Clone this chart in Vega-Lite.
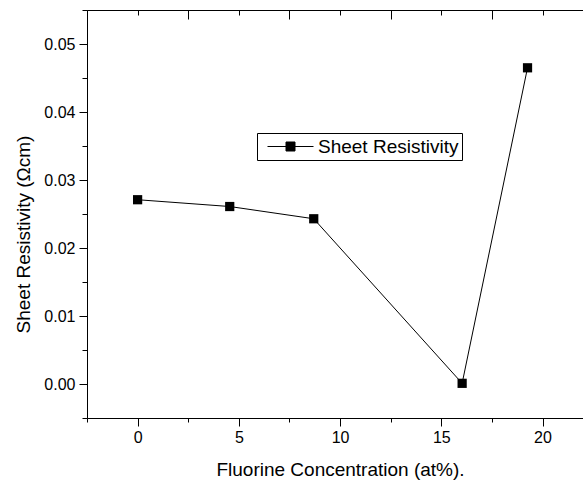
{
  "$schema": "https://vega.github.io/schema/vega-lite/v6.json",
  "width": 496,
  "height": 408,
  "autosize": {"type": "none"},
  "padding": {"left": 87, "top": 10, "right": 0, "bottom": 62},
  "background": "white",
  "config": {
    "view": {"stroke": null},
    "font": "Liberation Sans",
    "axis": {
      "grid": false,
      "domainColor": "black",
      "domainWidth": 1,
      "tickColor": "black",
      "tickWidth": 1,
      "labelColor": "black",
      "titleColor": "black",
      "labelFont": "Liberation Sans",
      "titleFont": "Liberation Sans",
      "labelFontSize": 16,
      "titleFontSize": 19,
      "titleFontWeight": "normal",
      "labelFlush": false
    }
  },
  "data": {
    "values": [
      {"conc": 0, "res": 0.0271, "series": "Sheet Resistivity"},
      {"conc": 4.55, "res": 0.0261, "series": "Sheet Resistivity"},
      {"conc": 8.7, "res": 0.0243, "series": "Sheet Resistivity"},
      {"conc": 16.03, "res": 0.0001, "series": "Sheet Resistivity"},
      {"conc": 19.26, "res": 0.0465, "series": "Sheet Resistivity"}
    ]
  },
  "layer": [
    {
      "mark": {"type": "point", "opacity": 0},
      "encoding": {
        "x": {"field": "conc", "type": "quantitative", "scale": {"domain": [-2.5, 22], "nice": false, "zero": false},
          "axis": {"orient": "bottom", "values": [-2.5, 2.5, 7.5, 12.5, 17.5], "tickSize": 4, "labels": false, "domain": false, "title": null}},
        "y": {"field": "res", "type": "quantitative", "scale": {"domain": [-0.005, 0.055], "nice": false, "zero": false},
          "axis": {"orient": "left", "values": [-0.005, 0.005, 0.015, 0.025, 0.035, 0.045, 0.055], "tickSize": 5, "labels": false, "domain": false, "title": null}}
      }
    },
    {
      "mark": {"type": "point", "opacity": 0},
      "encoding": {
        "x": {"field": "conc", "type": "quantitative",
          "axis": {"orient": "top", "values": [0, 5, 10, 15, 20], "tickSize": -5, "labels": false, "domain": true, "title": null}},
        "y": {"field": "res", "type": "quantitative", "axis": null}
      }
    },
    {
      "mark": {"type": "point", "opacity": 0},
      "encoding": {
        "x": {"field": "conc", "type": "quantitative",
          "axis": {"orient": "top", "values": [-2.5, 2.5, 7.5, 12.5, 17.5], "tickSize": -9, "labels": false, "domain": false, "title": null}},
        "y": {"field": "res", "type": "quantitative", "axis": null}
      }
    },
    {
      "mark": {"type": "line", "color": "black", "strokeWidth": 1,
        "point": {"shape": "square", "filled": true, "size": 85, "color": "black", "opacity": 1}},
      "encoding": {
        "x": {"field": "conc", "type": "quantitative",
          "axis": {"orient": "bottom", "values": [0, 5, 10, 15, 20], "tickSize": 8, "labelPadding": 3,
            "title": "Fluorine Concentration (at%).", "titleX": 253, "titleY": 57, "titleBaseline": "alphabetic", "titleAlign": "center"}},
        "y": {"field": "res", "type": "quantitative",
          "axis": {"orient": "left", "values": [0, 0.01, 0.02, 0.03, 0.04, 0.05], "format": ".2f", "tickSize": 8, "labelPadding": 4,
            "title": "Sheet Resistivity (Ωcm)", "titleX": -58, "titleY": 224, "titleAngle": -90, "titleBaseline": "alphabetic", "titleAlign": "center"}},
        "color": {"field": "series", "type": "nominal", "scale": {"range": ["black"]},
          "legend": {
            "orient": "none", "legendX": 170, "legendY": 123, "title": null,
            "strokeColor": "black", "fillColor": "white", "padding": 3,
            "symbolType": "M-2.3,0H2.3M-0.45,-0.45H0.45V0.45H-0.45Z", "symbolSize": 400,
            "symbolStrokeWidth": 1, "symbolFillColor": "black", "symbolStrokeColor": "black",
            "symbolOffset": 20, "labelOffset": 17,
            "labelFontSize": 19, "labelFont": "Liberation Sans", "labelColor": "black"
          }}
      }
    }
  ],
  "resolve": {"axis": {"x": "independent", "y": "independent"}}
}
